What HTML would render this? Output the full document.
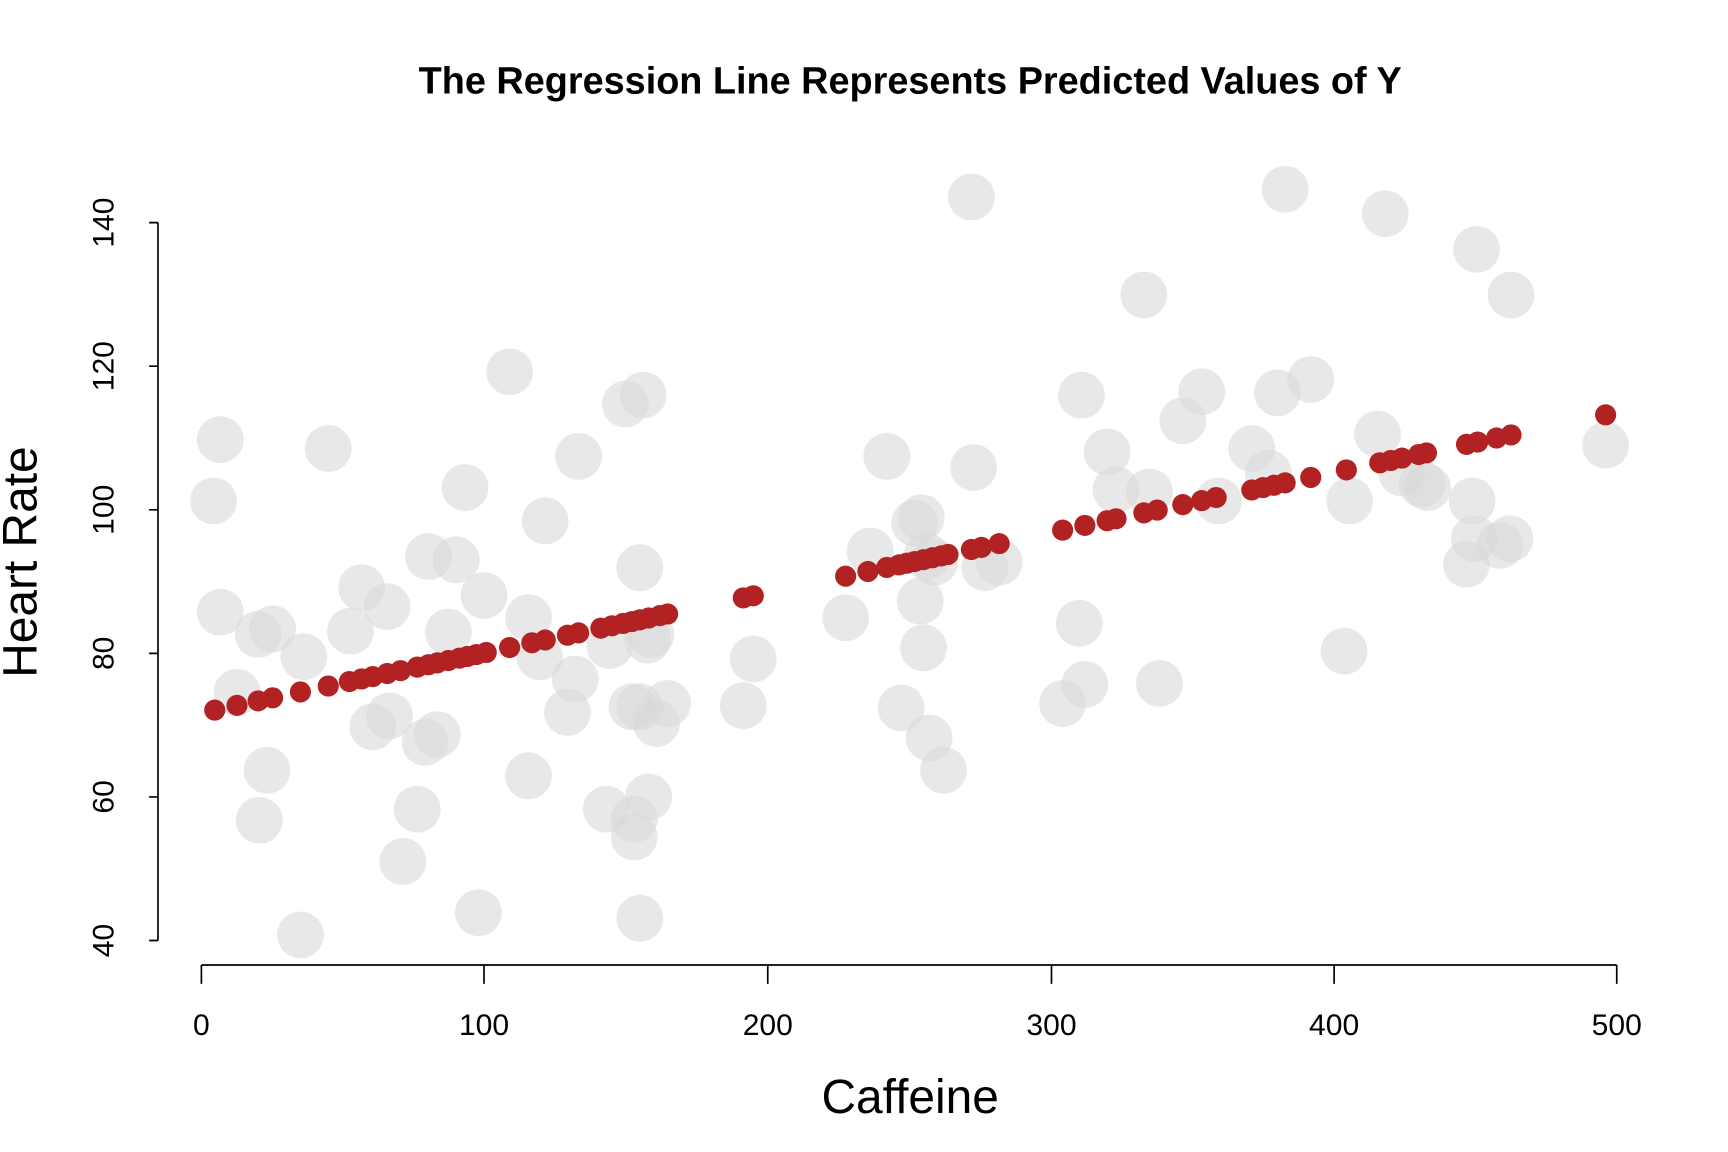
<!DOCTYPE html><html><head><style>body{margin:0;background:#fff}svg{display:block}</style></head><body>
<svg id="s" width="1728" height="1152" viewBox="0 0 1553 1035" preserveAspectRatio="none" xmlns="http://www.w3.org/2000/svg" font-family="Liberation Sans, sans-serif">
<rect width="1553" height="1035" fill="#fff"/>
<g id="g" fill="#d9d9d9" fill-opacity="0.6"></g>
<g id="r" fill="#b22222"></g>
<text x="818" y="84" text-anchor="middle" font-size="34" font-weight="bold">The Regression Line Represents Predicted Values of Y</text>
<g stroke="#000" stroke-width="1.5" fill="none">
<path d="M142 200V845M142 200h-8M142 329h-8M142 458h-8M142 587h-8M142 716h-8M142 845h-8"/>
<path d="M181 867H1453M181 867v17M435 867v17M690 867v17M945 867v17M1199 867v17M1453 867v17"/>
</g>
<g font-size="27" text-anchor="middle">
<text x="181" y="930">0</text><text x="435" y="930">100</text><text x="690" y="930">200</text><text x="945" y="930">300</text><text x="1199" y="930">400</text><text x="1453" y="930">500</text>
<g transform="rotate(-90)"><text x="-200" y="102">140</text><text x="-329" y="102">120</text><text x="-458" y="102">100</text><text x="-587" y="102">80</text><text x="-716" y="102">60</text><text x="-845" y="102">40</text></g>
</g>
<text x="818" y="1000" text-anchor="middle" font-size="43">Caffeine</text>
<text transform="translate(33,505) rotate(-90)" text-anchor="middle" font-size="43">Heart Rate</text>
</svg>
<script>
var G=[[192,450],[198,395],[198,550],[213,622],[232,570],[245,565],[240,692],[233,737],[270,840],[273,590],[295,403],[315,567],[325,528],[335,653],[348,545],[350,643],[362,774],[375,727],[382,667],[385,500],[393,660],[403,568],[410,503],[418,438],[430,820],[435,535],[458,334],[475,555],[475,697],[485,590],[490,468],[510,640],[517,610],[520,410],[545,727],[548,580],[562,363],[570,736],[570,752],[578,355],[575,510],[575,825],[582,575],[585,570],[568,635],[575,635],[583,716],[590,650],[600,632],[668,634],[677,592],[760,555],[782,495],[797,410],[810,636],[822,470],[828,465],[830,582],[833,500],[827,540],[835,663],[840,505],[848,692],[873,177],[875,420],[885,510],[898,505],[955,632],[970,560],[972,355],[975,615],[995,406],[1003,440],[1028,265],[1042,614],[1033,442],[1063,378],[1080,352],[1095,450],[1125,403],[1140,425],[1148,353],[1155,170],[1178,341],[1208,585],[1213,450],[1238,390],[1245,192],[1260,425],[1278,435],[1283,438],[1318,507],[1323,450],[1325,484],[1327,224],[1348,490],[1357,484],[1358,265],[1443,400]];
var R=[193,213,232,245,270,295,314,325,335,348,360,375,385,393,403,413,420,428,437,458,478,490,510,520,540,550,560,568,575,583,593,600,668,677,760,780,797,808,815,822,830,838,846,852,873,882,898,955,975,995,1003,1028,1040,1063,1080,1093,1125,1135,1145,1155,1178,1210,1240,1250,1260,1275,1282,1318,1328,1345,1358,1443];
var ns="http://www.w3.org/2000/svg",g=document.getElementById('g'),r=document.getElementById('r');
G.forEach(function(p){var c=document.createElementNS(ns,'circle');c.setAttribute('cx',p[0]);c.setAttribute('cy',p[1]);c.setAttribute('r',21);g.appendChild(c);});
R.forEach(function(x){var v=(x-181)/2.544,y=71.7+0.0837*v,py=845-(y-40)*6.45;var c=document.createElementNS(ns,'circle');c.setAttribute('cx',x);c.setAttribute('cy',py);c.setAttribute('r',9.5);r.appendChild(c);});
</script>
</body></html>
